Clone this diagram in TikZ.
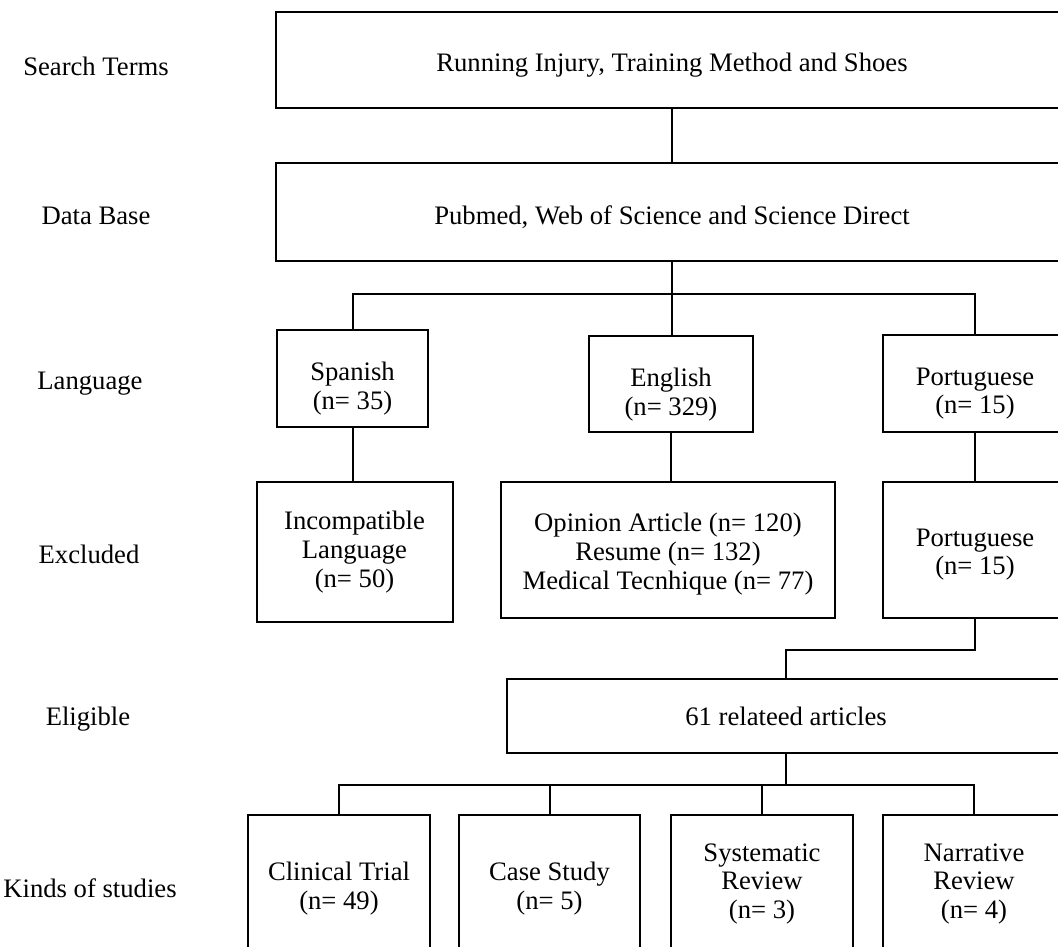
\documentclass[tikz,border=0pt]{standalone}
\usepackage{fontspec}
\setmainfont{Liberation Serif}
\usetikzlibrary{positioning}
\newcommand{\topgap}[1]{\rule{0pt}{#1}}

\tikzset{
  box/.style={draw,line width=1.5pt,inner sep=2pt,align=center},
  rowlabel/.style={inner sep=0pt}
}

\begin{document}
\begin{tikzpicture}[x=0.75pt,y=-0.75pt,line width=1.5pt,
  every node/.style={font=\fontsize{20pt}{21.5pt}\selectfont}]
 \useasboundingbox (0,0) rectangle (1058,947);
 \clip (0,0) rectangle (1058,947);
 % row labels
 \node[rowlabel] (lterms) at (96,66) {Search Terms};
 \node[rowlabel] (lbase) at (96,216) {Data Base};
 \node[rowlabel] (llang) at (90,384) {Language};
 \node[rowlabel] (lexcl) at (89,554) {Excluded};
 \node[rowlabel] (lelig) at (88,719) {Eligible};
 \node[rowlabel] (lkind) at (90,888) {Kinds of studies};
 % boxes
 \node[box,minimum width=594pt,minimum height=72pt] (terms) at (672,60)
   {\topgap{21.5pt}Running Injury, Training Method and Shoes};
 \node[box,minimum width=594pt,minimum height=73pt] (base) at (672,212)
   {\topgap{21.5pt}Pubmed, Web of Science and Science Direct};
 \node[box,minimum width=113pt,minimum height=73pt] (spa) at (352.5,378.5)
   {\topgap{29pt}Spanish\\(n= 35)};
 \node[box,minimum width=123pt,minimum height=72pt] (eng) at (671,384)
   {\topgap{30pt}English\\(n= 329)};
 \node[box,minimum width=138pt,minimum height=73pt] (por) at (975,383.5)
   {\topgap{28pt}Portuguese\\(n= 15)};
 \node[box,minimum width=147pt,minimum height=105pt] (inc) at (354.5,552)
   {Incompatible\\Language\\(n= 50)};
 \node[box,minimum width=250pt,minimum height=102pt] (opi) at (668,550)
   {\topgap{20pt}Opinion Article (n= 120)\\Resume (n= 132)\\Medical Tecnhique (n= 77)};
 \node[box,minimum width=138pt,minimum height=102pt] (pex) at (975,550)
   {\topgap{20pt}Portuguese\\(n= 15)};
 \node[box,minimum width=418pt,minimum height=55pt] (eli) at (786,716)
   {61 relateed articles};
 \node[box,minimum width=136.5pt,minimum height=103pt] (clin) at (339,884)
   {\topgap{20.5pt}Clinical Trial\\(n= 49)};
 \node[box,minimum width=136pt,minimum height=103pt] (case) at (549.5,884)
   {\topgap{20.5pt}Case Study\\(n= 5)};
 \node[box,minimum width=136.5pt,minimum height=103pt] (sys) at (762,884)
   {Systematic\\Review\\(n= 3)};
 \node[box,minimum width=136.5pt,minimum height=103pt] (nar) at (974,884)
   {Narrative\\Review\\(n= 4)};
 % connectors
 \coordinate (jlang) at (672,294);
 \coordinate (jelig) at (786,650);
 \coordinate (jkind) at (786,785);
 \draw (terms) -- (base);
 \draw (base.south) -- (jlang);
 \draw[line width=1pt] (jlang) -- (jlang |- eng.north);
 \draw (spa.north) |- (jlang) -| (por.north);
 \draw (spa.south) -- (spa.south |- inc.north);
 \draw (eng.south) -- (eng.south |- opi.north);
 \draw (por) -- (pex);
 \draw (pex.south) |- (jelig) -- (eli.north);
 \draw (eli.south) -- (jkind);
 \draw (clin.north) |- (jkind) -| (nar.north);
 \draw (case.north) -- (case.north |- jkind);
 \draw (sys.north) -- (sys.north |- jkind);
\end{tikzpicture}
\end{document}
